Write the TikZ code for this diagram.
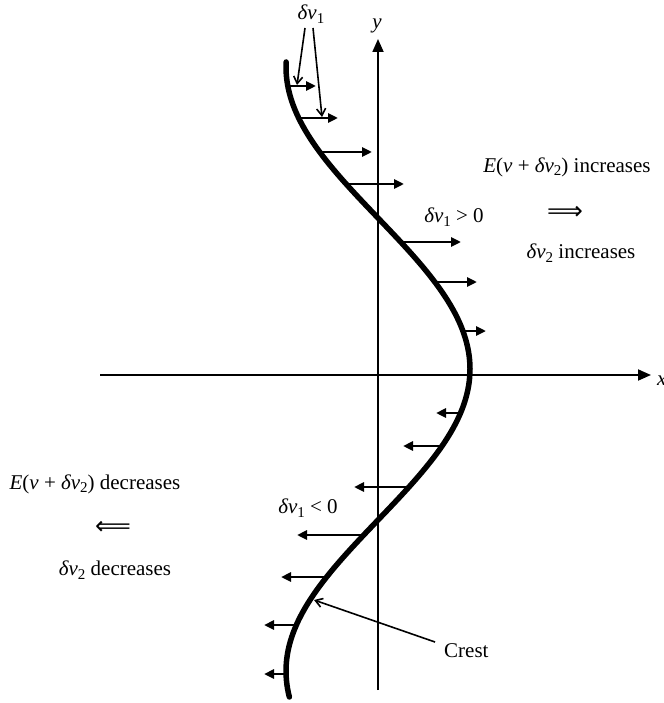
\documentclass[tikz,border=0pt]{standalone}
\usepackage{fontspec}
\setmainfont{Liberation Serif}
\newfontfamily\arrfont{DejaVu Sans}
\usetikzlibrary{arrows.meta}
\newcommand{\lsub}[1]{\raisebox{-0.35ex}{\fontsize{15}{15}\selectfont #1}}
\begin{document}
\begin{tikzpicture}[x=1pt,y=-1pt,
  font=\fontsize{21}{24}\selectfont,
  curve/.style={line width=5.5pt, line cap=round},
  vec/.style={line width=2.5pt, -{Triangle[length=10pt,width=9pt]}},
  axis/.style={line width=1.8pt, -{Triangle[length=13pt,width=11pt]}},
  pointer/.style={line width=1.6pt, -{Straight Barb[length=7pt,width=9pt]}},
  lab/.style={inner sep=0pt},
  dbl/.style={inner sep=0pt, font=\arrfont\fontsize{25}{27}\selectfont}]
\clip (0,0) rectangle (663,703);
% axes
\coordinate (xs) at (100,375);
\coordinate (xe) at (651,375);
\coordinate (ys) at (378,690);
\coordinate (ye) at (378,39);
\draw[axis] (xs) -- (xe);
\draw[axis] (ys) -- (ye);
% curve
\draw[curve] plot[domain=62:697, samples=150, variable=\t] ({378+92*sin((\t-218)*0.596)}, \t);
% perturbation arrows
\foreach \yy/\xx in {86/316,118/338,152/372,184/404,242/461,282/477,331/486,
                     413/436,446/403,487/354,535/297,577/281,625/264,674/264}{
  \coordinate (s) at ({378+92*sin((\yy-218)*0.596)},\yy);
  \coordinate (e) at (\xx,\yy);
  \draw[vec] (s) -- (e);
}
% labels
\node[lab] (dv1) at (311,14) {\textit{δv}\lsub{1}};
\node[lab] (ylab) at (377,26) {\textit{y}};
\node[lab, anchor=west] (xlab) at (657,381) {\textit{x}};
\node[lab] (einc) at (567,167) {\textit{E}(\textit{v} + \textit{δv}\lsub{2}) increases};
\node[dbl] (rarr) at (565,213) {⟹};
\node[lab] (dinc) at (581,253) {\textit{δv}\lsub{2} increases};
\node[lab] (pos) at (454,217) {\textit{δv}\lsub{1} > 0};
\node[lab] (edec) at (95,484) {\textit{E}(\textit{v} + \textit{δv}\lsub{2}) decreases};
\node[dbl] (larr) at (113,528) {⟸};
\node[lab] (ddec) at (115,570) {\textit{δv}\lsub{2} decreases};
\node[lab] (neg) at (308,508) {\textit{δv}\lsub{1} < 0};
\node[lab, anchor=west] (crest) at (444,651) {Crest};
% pointers
\coordinate (pa) at (305,28);
\coordinate (pb) at (313,28);
\coordinate (ta) at (297,85);
\coordinate (tb) at (322,117);
\draw[pointer] (pa) -- (ta);
\draw[pointer] (pb) -- (tb);
\coordinate (cs) at (435,642);
\coordinate (ct) at (314,600);
\draw[pointer] (cs) -- (ct);
\end{tikzpicture}
\end{document}
